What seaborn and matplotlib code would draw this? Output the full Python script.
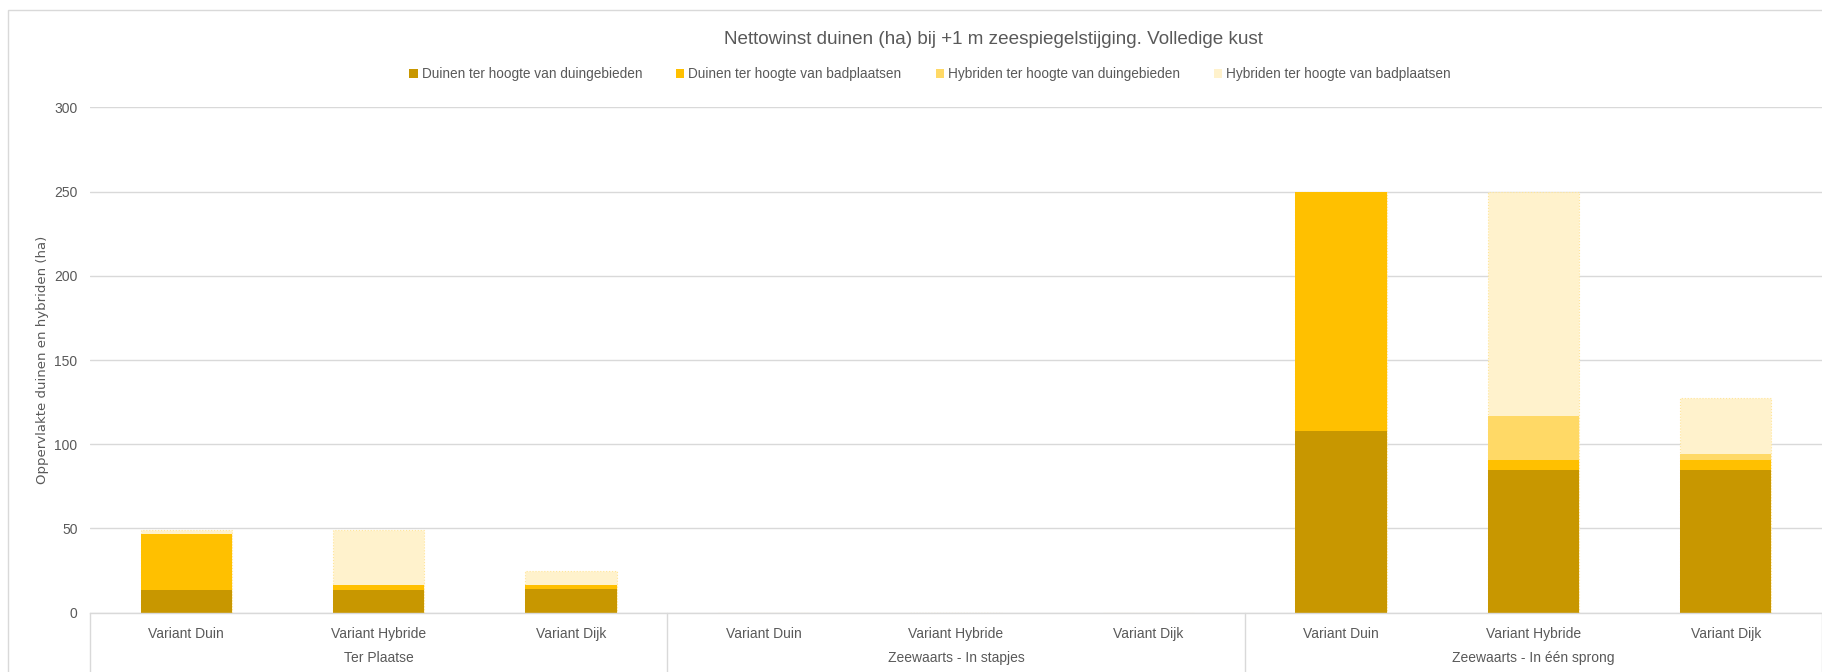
import matplotlib
matplotlib.use("Agg")
import matplotlib.pyplot as plt
import matplotlib.patches as mpatches
import matplotlib.transforms as mtransforms
import numpy as np
import pandas as pd
import seaborn as sns

# ---- data ----
groups = ["Ter Plaatse", "Zeewaarts - In stapjes", "Zeewaarts - In één sprong"]
variants = ["Variant Duin", "Variant Hybride", "Variant Dijk"]
series_names = [
    "Duinen ter hoogte van duingebieden",
    "Duinen ter hoogte van badplaatsen",
    "Hybriden ter hoogte van duingebieden",
    "Hybriden ter hoogte van badplaatsen",
]
duinen_duingebieden = [13.4, 13.4, 14.0, 0, 0, 0, 108.0, 84.8, 84.8]
duinen_badplaatsen = [33.4, 2.8, 2.2, 0, 0, 0, 142.0, 5.9, 5.9]
hybriden_duingebieden = [0.0, 0.5, 0.5, 0, 0, 0, 0.0, 26.1, 3.6]
hybriden_badplaatsen = [2.0, 32.1, 8.2, 0, 0, 0, 0.0, 133.2, 33.4]
y_ticks = [0, 50, 100, 150, 200, 250, 300]

colors = ["#C89700", "#FFC000", "#FFD966", "#FFF2CC"]
TXT = "#595959"
GRID = "#D9D9D9"

sns.set_theme(style="white")
plt.rcParams["font.family"] = ["Liberation Sans", "DejaVu Sans"]

keys = [f"{g}|{v}" for g in groups for v in variants]
layers = np.array([duinen_duingebieden, duinen_badplaatsen,
                   hybriden_duingebieden, hybriden_badplaatsen])
cum = np.cumsum(layers, axis=0)

fig = plt.figure(figsize=(18.22, 6.72), dpi=100)
ax = fig.add_axes([90 / 1822, 1 - 612.7 / 672, 1 - 90 / 1822, (612.7 - 107.3) / 672])

# draw cumulative totals from the top layer down (overdraw = stacking)
for i in range(3, -1, -1):
    df = pd.DataFrame({"key": keys, "value": cum[i]})
    if i == 3:
        edge = dict(edgecolor="#FFE699", linewidth=0.8, linestyle=":")
    else:
        edge = dict(edgecolor="none", linewidth=0)
    sns.barplot(data=df, x="key", y="value", order=keys, color=colors[i],
                saturation=1, width=0.475, ax=ax, errorbar=None, **edge)

ax.set_xlim(-0.5, len(keys) - 0.5)
ax.set_ylim(0, 300)
ax.set_yticks(y_ticks)
ax.set_yticklabels([str(t) for t in y_ticks], color=TXT, fontsize=10)
ax.set_xticks(range(len(keys)))
ax.set_xticklabels([k.split("|")[1] for k in keys], color=TXT, fontsize=10)
ax.tick_params(axis="x", length=0, pad=10)
ax.tick_params(axis="y", length=0, pad=9)
ax.set_xlabel("")
ax.set_ylabel("Oppervlakte duinen en hybriden (ha)", color=TXT, fontsize=9.5,
              family="DejaVu Sans", labelpad=4)
ax.yaxis.grid(True, color=GRID, linewidth=1)
ax.set_axisbelow(True)
for s in ["top", "right", "left"]:
    ax.spines[s].set_visible(False)
ax.spines["bottom"].set_color(GRID)
ax.spines["bottom"].set_linewidth(1)

# group separators and labels
trans = mtransforms.blended_transform_factory(ax.transData, ax.transAxes)
for b in [-0.5, 2.5, 5.5, 8.5]:
    ax.plot([b, b], [0, -0.2], transform=trans, color=GRID, linewidth=1, clip_on=False)
for gi, g in enumerate(groups):
    ax.text(gi * 3 + 1, -(658 - 612.7) / 505.4, g, transform=trans, ha="center",
            va="center", color=TXT, fontsize=10)

# title
fig.text(993 / 1822, 1 - 40 / 672, "Nettowinst duinen (ha) bij +1 m zeespiegelstijging. Volledige kust",
         ha="center", va="center", color=TXT, fontsize=13.6)

# legend
handles = [mpatches.Patch(facecolor=c, edgecolor="none", label=n) for c, n in zip(colors, series_names)]
fig.legend(handles=handles, loc="center", bbox_to_anchor=(930 / 1822, 1 - 74 / 672), ncol=4,
           frameon=False, fontsize=9.8, handlelength=0.6, handleheight=0.6,
           handletextpad=0.3, columnspacing=2.5, labelcolor=TXT)

# outer chart border
fig.patches.append(mpatches.Rectangle((8 / 1822, -0.1), 1.2, (672 - 10) / 672 + 0.1,
                                      transform=fig.transFigure, fill=False,
                                      edgecolor=GRID, linewidth=1))

fig.savefig("out.png", dpi=100, facecolor="white")
